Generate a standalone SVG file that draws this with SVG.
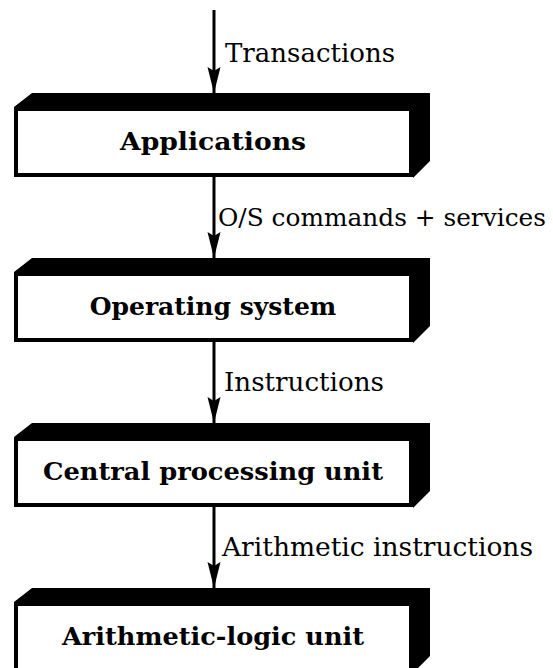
<svg xmlns="http://www.w3.org/2000/svg" width="553" height="668" viewBox="0 0 553 668">
<style>
.lbl{font-family:"DejaVu Serif","Liberation Serif",serif;font-size:26px;fill:#000}
.box{font-family:"DejaVu Serif","Liberation Serif",serif;font-size:25px;font-weight:bold;fill:#000;text-anchor:middle}
.face{fill:#000}
.front{fill:#fff;stroke:#000;stroke-width:4}
.conn{stroke:#000;stroke-width:3;fill:none;marker-end:url(#ah)}
</style>
<defs>
<marker id="ah" markerUnits="userSpaceOnUse" markerWidth="28" markerHeight="14" refX="26" refY="6.5" orient="auto">
<path d="M0,0 L26,6.5 L0,13 L4,6.5 z" fill="#000"/>
</marker>
</defs>
<rect width="553" height="668" fill="#fff"/>
<g id="connectors">
<line class="conn" x1="214" y1="10" x2="214" y2="93"/>
<line class="conn" x1="214" y1="177" x2="214" y2="258"/>
<line class="conn" x1="214" y1="342" x2="214" y2="423"/>
<line class="conn" x1="214" y1="507" x2="214" y2="588"/>
<text class="lbl" x="225" y="62" textLength="170" lengthAdjust="spacingAndGlyphs">Transactions</text>
<text class="lbl" x="218" y="226" style="font-size:25px" textLength="328" lengthAdjust="spacingAndGlyphs">O/S commands + services</text>
<text class="lbl" x="224" y="391" textLength="160" lengthAdjust="spacingAndGlyphs">Instructions</text>
<text class="lbl" x="222" y="556" textLength="311" lengthAdjust="spacingAndGlyphs">Arithmetic instructions</text>
</g>
<g id="applications">
<polygon class="face" points="14,107 32,93 430,93 430,161 413,178 413,107"/>
<rect class="front" x="16" y="109" width="395" height="66"/>
<text class="box" x="213" y="150" textLength="186" lengthAdjust="spacingAndGlyphs">Applications</text>
</g>
<g id="operating-system">
<polygon class="face" points="14,272 32,258 430,258 430,326 413,343 413,272"/>
<rect class="front" x="16" y="274" width="395" height="66"/>
<text class="box" x="213" y="315">Operating system</text>
</g>
<g id="cpu">
<polygon class="face" points="14,437 32,423 430,423 430,491 413,508 413,437"/>
<rect class="front" x="16" y="439" width="395" height="66"/>
<text class="box" x="213" y="480" textLength="340" lengthAdjust="spacingAndGlyphs">Central processing unit</text>
</g>
<g id="alu">
<polygon class="face" points="14,602 32,588 430,588 430,656 413,673 413,602"/>
<rect class="front" x="16" y="604" width="395" height="66"/>
<text class="box" x="213" y="645" textLength="302" lengthAdjust="spacingAndGlyphs">Arithmetic-logic unit</text>
</g>
</svg>
